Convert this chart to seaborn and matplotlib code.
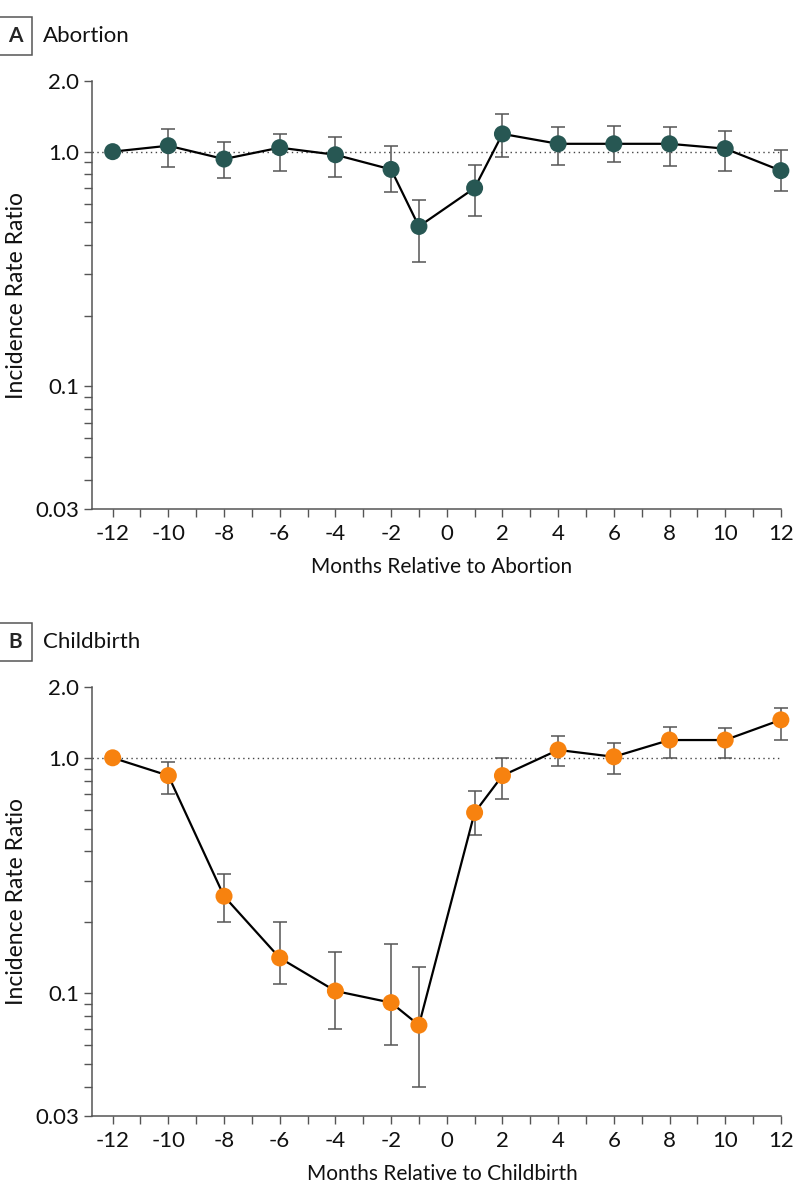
import numpy as np
import pandas as pd
import matplotlib
matplotlib.use("Agg")
import matplotlib.pyplot as plt
import matplotlib.ticker as mticker
import seaborn as sns

# months relative to the event
months = [-12, -10, -8, -6, -4, -2, -1, 1, 2, 4, 6, 8, 10, 12]

# panel A: abortion, incidence rate ratio with 95% CI
abortion_irr = [1.00, 1.06, 0.93, 1.04, 0.97, 0.84, 0.48, 0.70, 1.19, 1.08, 1.08, 1.08, 1.03, 0.83]
abortion_lo = [1.00, 0.86, 0.77, 0.83, 0.78, 0.67, 0.34, 0.53, 0.95, 0.88, 0.90, 0.87, 0.83, 0.68]
abortion_hi = [1.00, 1.25, 1.10, 1.19, 1.15, 1.06, 0.62, 0.88, 1.45, 1.27, 1.29, 1.27, 1.22, 1.02]

# panel B: childbirth
childbirth_irr = [1.00, 0.84, 0.258, 0.141, 0.102, 0.091, 0.073, 0.585, 0.84, 1.08, 1.01, 1.19, 1.19, 1.45]
childbirth_lo = [1.00, 0.70, 0.20, 0.109, 0.070, 0.060, 0.040, 0.47, 0.67, 0.92, 0.85, 1.00, 1.00, 1.19]
childbirth_hi = [1.00, 0.96, 0.32, 0.20, 0.149, 0.161, 0.129, 0.72, 1.00, 1.24, 1.16, 1.35, 1.34, 1.63]

ytick_vals = [0.03, 0.1, 1.0, 2.0]
ytick_labels = ["0.03", "0.1", "1.0", "2.0"]

sns.set_style("white")
plt.rcParams["font.family"] = ["Lato", "DejaVu Sans"]

fig = plt.figure(figsize=(7.98, 12), dpi=100)

panels = [
    ("A", "Abortion", "Months Relative to Abortion", abortion_irr, abortion_lo, abortion_hi, "#275753",
     [0.115, 0.5758, 0.8775, 0.3567]),
    ("B", "Childbirth", "Months Relative to Childbirth", childbirth_irr, childbirth_lo, childbirth_hi, "#f7820f",
     [0.115, 0.07, 0.8775, 0.3575]),
]

for letter, name, xlab, irr, lo, hi, col, rect in panels:
    ax = fig.add_axes(rect)
    df = pd.DataFrame({"month": months, "irr": irr, "lo": lo, "hi": hi})

    ax.axhline(1.0, color="#444444", lw=1, ls=(0, (1, 2.5)), xmin=0, xmax=(12 + 12.75) / 25.15, zorder=1)
    ax.errorbar(df["month"], df["irr"],
                yerr=[df["irr"] - df["lo"], df["hi"] - df["irr"]],
                fmt="none", ecolor="#555555", elinewidth=1.1, capsize=5, capthick=1.1, zorder=2)
    sns.lineplot(data=df, x="month", y="irr", color="black", lw=1.6, ax=ax, zorder=3)
    sns.scatterplot(data=df, x="month", y="irr", color=col, s=150, edgecolor="none", ax=ax, zorder=4)

    ax.set_yscale("log")
    ax.set_ylim(0.03, 2.0)
    ax.set_xlim(-12.75, 12.4)
    ax.yaxis.set_major_locator(mticker.FixedLocator(ytick_vals))
    ax.yaxis.set_major_formatter(mticker.FixedFormatter(ytick_labels))
    minors = [0.04, 0.05, 0.06, 0.07, 0.08, 0.09, 0.2, 0.3, 0.4, 0.5, 0.6, 0.7, 0.8, 0.9]
    ax.yaxis.set_minor_locator(mticker.FixedLocator(minors))
    ax.yaxis.set_minor_formatter(mticker.NullFormatter())
    ax.set_xticks(range(-12, 13))
    ax.set_xticklabels([str(m) if m % 2 == 0 else "" for m in range(-12, 13)])

    ax.tick_params(axis="both", which="both", direction="out", length=6, width=1, color="#555555",
                   labelsize=16, labelcolor="#111111", left=True, bottom=True)
    ax.tick_params(axis="x", pad=5)
    ax.tick_params(axis="y", pad=3)

    for s in ["top", "right"]:
        ax.spines[s].set_visible(False)
    for s in ["left", "bottom"]:
        ax.spines[s].set_color("#555555")
        ax.spines[s].set_linewidth(1.1)
    ax.spines["bottom"].set_bounds(-12.75, 12)

    ax.set_xlabel(xlab, fontsize=15, color="#111111", labelpad=9)
    ax.set_ylabel("Incidence Rate Ratio", fontsize=16.5, color="#111111", labelpad=6)

    # boxed panel letter and title
    top = rect[1] + rect[3]
    ty = top + 0.0375
    fig.text(0.0195, ty, letter, fontsize=15, fontweight="bold", ha="center", va="center",
             bbox=dict(boxstyle="square,pad=0.45", fc="white", ec="#555555", lw=1.1))
    fig.text(0.054, ty, name, fontsize=16, ha="left", va="center", color="#111111")

fig.savefig("out.png", dpi=100)
